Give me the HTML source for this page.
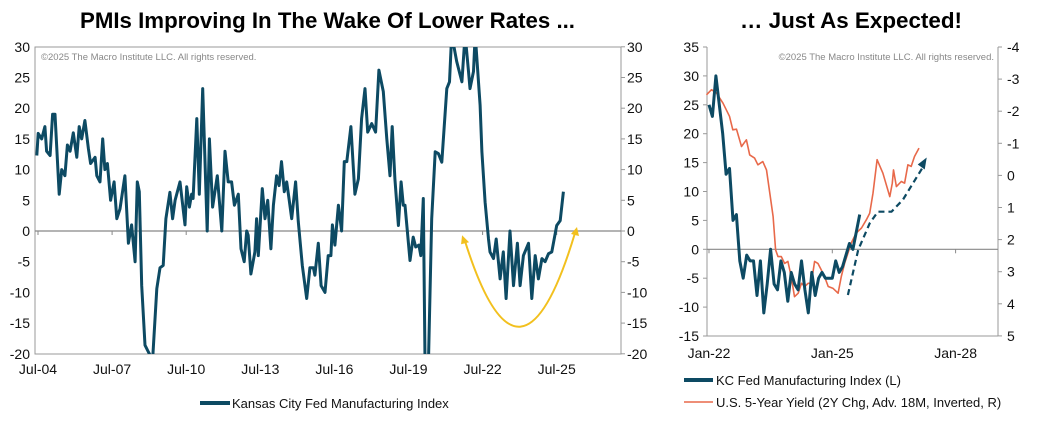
<!DOCTYPE html>
<html><head><meta charset="utf-8"><style>
body{margin:0;background:#fff;width:1038px;height:425px;overflow:hidden;font-family:"Liberation Sans",Arial,sans-serif}
svg text{font-family:"Liberation Sans",Arial,sans-serif}
</style></head><body>
<svg id="c" width="1038" height="425" xmlns="http://www.w3.org/2000/svg">
<text x="80" y="28" textLength="495" lengthAdjust="spacingAndGlyphs" style="font-family:'Liberation Sans Narrow','Liberation Sans',sans-serif;font-weight:bold;font-size:22px">PMIs Improving In The Wake Of Lower Rates ...</text>
<text x="740" y="28" textLength="222" lengthAdjust="spacingAndGlyphs" style="font-family:'Liberation Sans Narrow','Liberation Sans',sans-serif;font-weight:bold;font-size:22px">… Just As Expected!</text>
</svg>
<script>
// Left chart data: KC Fed Manufacturing Index
const leftDates=[2004.45,2004.51,2004.65,2004.78,2004.85,2004.99,2005.09,2005.19,2005.36,2005.46,2005.59,2005.69,2005.80,2005.93,2006.07,2006.17,2006.27,2006.40,2006.54,2006.63,2006.81,2006.88,2007.01,2007.12,2007.21,2007.31,2007.44,2007.58,2007.69,2007.82,2008.02,2008.16,2008.29,2008.43,2008.52,2008.60,2008.70,2008.83,2008.97,2009.14,2009.31,2009.44,2009.57,2009.68,2009.84,2009.95,2010.05,2010.25,2010.45,2010.52,2010.63,2010.72,2010.78,2010.93,2011.03,2011.17,2011.35,2011.44,2011.57,2011.76,2011.94,
2012.07,2012.20,2012.34,2012.45,2012.61,2012.72,2012.85,2012.95,2013.01,2013.12,2013.28,2013.35,2013.42,2013.58,2013.69,2013.80,2013.93,2014.03,2014.16,2014.26,2014.36,2014.47,2014.57,2014.66,2014.77,2014.93,2015.04,2015.20,2015.38,2015.51,2015.65,2015.71,2015.85,2015.96,2016.12,2016.25,2016.36,2016.42,2016.52,2016.66,2016.79,2016.90,2017.00,2017.17,2017.33,2017.47,2017.60,2017.74,2017.85,2018.01,2018.17,2018.30,2018.48,2018.62,2018.75,2018.84,2018.95,2019.09,2019.20,2019.29,2019.36,2019.56,2019.69,2019.79,2019.92,2020.00,2020.10,2020.17,
2020.31,2020.44,2020.58,2020.71,2020.85,2021.05,2021.16,2021.25,2021.45,2021.66,2021.79,2021.93,2021.99,2022.13,2022.20,2022.40,2022.47,2022.60,2022.74,2022.80,2022.94,2023.05,2023.21,2023.34,2023.45,2023.61,2023.75,2023.91,2024.02,2024.15,2024.36,2024.49,2024.63,2024.76,2024.90,2025.03,2025.17,2025.30,2025.50,2025.64,2025.77];
const leftVals=[12.3,15.9,15,17,13,12.3,19,19,6,10,9,14,13,16,12,17,15,18,13.4,11,12,9,8,15,10,11,5,8,2,3.6,9,-2,1,-5,8,6.4,-8.9,-18.6,-19.7,-21,-9.4,-6,-5.6,2,6.3,2,5,8,1,7.2,3.9,6,5.3,18.3,6,23.2,0,15,3.9,9,0,
13,8,8,4.2,6,-2.9,-5,0,-0.7,-7,-3.4,2,-4,6.9,2,5,-2.9,4.2,9,7.4,11.3,6.4,8,5.3,2,8,1.5,-5.6,-11,-6,-6,-7.2,-2,-8.9,-10,-4,-4,1,-2.3,4.2,0,11.3,11.3,17,6,8.5,18.3,23.2,16.1,17.5,16.1,26.2,22.7,15,9,17,8.5,0.9,8,4.2,4.2,-4.8,-1,-2.6,-2.3,-4,5.3,-21,
-21,2,12.9,12.6,11.2,23.2,24.3,32,27.6,24.3,32,26,23.2,26,32,20.5,12.9,4.7,-1.3,-3.4,-4.5,-1.3,-7.8,-3.4,-11,0,-8.9,-2,-8.9,-4,-2,-11,-4,-7.8,-4.5,-5,-3.7,-3.4,0.9,1.7,6.4];
const leftTicksY=[30,25,20,15,10,5,0,-5,-10,-15,-20];
const leftTicksX=["Jul-04","Jul-07","Jul-10","Jul-13","Jul-16","Jul-19","Jul-22","Jul-25"];
const leftTickYears=[2004.5,2007.5,2010.5,2013.5,2016.5,2019.5,2022.5,2025.5];
const arcYears=[2021.79,2024.02,2026.24];
const arcVals=[-0.7,-15.1,0.65];
// Right chart data
const kcVals=[25,23,30,25,20,13,14,5,6,-2,-5,-1,-2,-2,-8,-2,-11,-6,0,-6,-7,-2,-4,-9,-4,-6,-7,-2,-7,-11,-4,-8,-5,-4,-5,-5,-5,-2,-4,-3,-1,1,0,3,6];
const kcStart=2022.0;
const ylDates=[2021.94,2022.06,2022.18,2022.34,2022.5,2022.58,2022.67,2022.79,2022.91,2022.99,2023.11,2023.19,2023.31,2023.4,2023.48,2023.56,2023.62,2023.68,2023.76,2023.84,2023.92,2024.0,2024.08,2024.17,2024.25,2024.33,2024.41,2024.49,2024.57,2024.65,2024.73,2024.81,2024.9,2025.02,2025.14,2025.22,2025.3,2025.46,2025.58,2025.71,2025.83,2025.91,2025.99,2026.09,2026.23,2026.4,2026.46,2026.49,2026.56,2026.68,2026.76,2026.84,2026.92,2027.0,2027.11];
const ylVals=[-2.51,-2.67,-2.57,-2.25,-1.84,-1.42,-1.44,-0.9,-1.11,-0.64,-0.54,-0.33,-0.43,-0.17,0.55,1.28,2.32,2.53,2.53,2.74,2.68,3.15,3.78,3.67,3.36,3.46,3.36,3.36,2.68,2.74,2.94,3.15,3.46,3.52,3.67,3.15,2.74,2.11,1.8,1.64,1.38,1.18,0.55,-0.49,-0.07,0.66,0.24,-0.17,0.35,0.19,0.24,-0.33,-0.28,-0.59,-0.85];
const projDates=[2025.38,2025.63,2025.91,2026.11,2026.44,2026.72,2027.2];
const projVals=[-7.9,-0.1,4.5,6.5,6.5,8.6,15.2];
const rTicksL=[35,30,25,20,15,10,5,0,-5,-10,-15];
const rTicksR=[-4,-3,-2,-1,0,1,2,3,4,5];
const rTicksX=["Jan-22","Jan-25","Jan-28"];
const rTickYears=[2022,2025,2028];

const NS="http://www.w3.org/2000/svg";
const svg=document.getElementById('c');
function mk(tag,attrs,parent){const e=document.createElementNS(NS,tag);for(const k in attrs)e.setAttribute(k,attrs[k]);(parent||svg).appendChild(e);return e;}
const TEAL="#0d4a63";
// ---------- Left chart ----------
const L={x0:35,x1:621,y0:47,y1:354};
const lx=y=>38+(y-2004.5)*24.7;
const ly=v=>231-v*6.14;
const lg=mk('g',{});


const lf=mk('rect',{x:L.x0,y:L.y0,width:L.x1-L.x0,height:L.y1-L.y0,fill:'none',stroke:'#999','stroke-width':1},lg);


const lz=mk('line',{x1:L.x0,x2:L.x1,y1:ly(0),y2:ly(0),stroke:'#888','stroke-width':1.2},lg);


leftTicksY.forEach(v=>{
  const t=mk('text',{x:L.x0-5,y:ly(v)+5,'text-anchor':'end','font-size':14,fill:'#111'},lg);t.textContent=v;
  
  
  const t2=mk('text',{x:L.x1+6,y:ly(v)+5,'font-size':14,fill:'#111'},lg);t2.textContent=v;
  
  
  mk('line',{x1:L.x1,x2:L.x1+4,y1:ly(v),y2:ly(v),stroke:'#999'},lg);
});
leftTicksX.forEach((s,i)=>{
  const x=lx(leftTickYears[i]);
  mk('line',{x1:x,x2:x,y1:ly(0),y2:ly(0)+4,stroke:'#888'},lg);
  const t=mk('text',{x:x,y:374,'text-anchor':'middle','font-size':14,fill:'#111'},lg);t.textContent=s;
  
  
});
const lc=mk('text',{x:41,y:60,'font-size':9.5,fill:'#888'},lg);lc.textContent='©2025 The Macro Institute LLC. All rights reserved.';


const clipL=mk('clipPath',{id:'clipL'});mk('rect',{x:L.x0,y:L.y0,width:L.x1-L.x0,height:L.y1-L.y0},clipL);
const lp=mk('path',{d:leftDates.map((d,i)=>(i?'L':'M')+lx(d).toFixed(1)+' '+ly(leftVals[i]).toFixed(1)).join(''),fill:'none',stroke:TEAL,'stroke-width':3,'stroke-linejoin':'round','clip-path':'url(#clipL)'},lg);


// yellow arc
const ax=arcYears.map(lx),ay=arcVals.map(ly);
const cx=ax[1],cy=2*ay[1]-(ay[0]+ay[2])/2;
const arc=mk('path',{d:`M${ax[0]} ${ay[0]+6}Q${cx} ${cy} ${ax[2]} ${ay[2]+6}`,fill:'none',stroke:'#f2c01e','stroke-width':2},lg);


const ah1=mk('polygon',{points:`${ax[0]-3},${ay[0]} ${ax[0]-4},${ay[0]+9} ${ax[0]+4},${ay[0]+7}`,fill:'#f2c01e'},lg);


const ah2=mk('polygon',{points:`${ax[2]+2},${ay[2]} ${ax[2]-4},${ay[2]+7} ${ax[2]+4},${ay[2]+9}`,fill:'#f2c01e'},lg);


// legend
const lgl=mk('line',{x1:200,x2:230,y1:403,y2:403,stroke:TEAL,'stroke-width':4},lg);


const lgt=mk('text',{x:232,y:408,'font-size':13,fill:'#111'},lg);lgt.textContent='Kansas City Fed Manufacturing Index';



// ---------- Right chart ----------
const R={x0:707,x1:998,y0:47,y1:336};
const rx=y=>709+(y-2022)*41.1;
const ryl=v=>47+(35-v)*5.78;
const ryr=v=>47+(v+4)*32.1;
const rg=mk('g',{});


const rf1=mk('line',{x1:R.x0,x2:R.x0,y1:R.y0,y2:R.y1,stroke:'#999'},rg);


const rf2=mk('line',{x1:R.x1,x2:R.x1,y1:R.y0,y2:R.y1,stroke:'#999'},rg);


const rf3=mk('line',{x1:R.x0,x2:R.x1,y1:R.y1,y2:R.y1,stroke:'#999'},rg);


const rz=mk('line',{x1:R.x0,x2:R.x1,y1:ryl(0),y2:ryl(0),stroke:'#888','stroke-width':1.2},rg);


rTicksL.forEach(v=>{
  mk('line',{x1:R.x0-4,x2:R.x0,y1:ryl(v),y2:ryl(v),stroke:'#999'},rg);
  const t=mk('text',{x:R.x0-8,y:ryl(v)+5,'text-anchor':'end','font-size':14,fill:'#111'},rg);t.textContent=v;
  
  
});
rTicksR.forEach(v=>{
  mk('line',{x1:R.x1,x2:R.x1+4,y1:ryr(v),y2:ryr(v),stroke:'#999'},rg);
  const t=mk('text',{x:R.x1+9,y:ryr(v)+5,'font-size':14,fill:'#111'},rg);t.textContent=v;
  
  
});
rTicksX.forEach((s,i)=>{
  const x=rx(rTickYears[i]);
  mk('line',{x1:x,x2:x,y1:ryl(0),y2:ryl(0)+4,stroke:'#888'},rg);
  const t=mk('text',{x:x,y:358,'text-anchor':'middle','font-size':14,fill:'#111'},rg);t.textContent=s;
  
  
});
const rc=mk('text',{x:994,y:60,'text-anchor':'end','font-size':9.5,fill:'#888'},rg);rc.textContent='©2025 The Macro Institute LLC. All rights reserved.';


const yp=mk('path',{d:ylDates.map((d,i)=>(i?'L':'M')+rx(d).toFixed(1)+' '+ryr(ylVals[i]).toFixed(1)).join(''),fill:'none',stroke:'#e8694a','stroke-width':1.6,'stroke-linejoin':'round'},rg);


const kp=mk('path',{d:kcVals.map((v,i)=>(i?'L':'M')+rx(kcStart+i/12).toFixed(1)+' '+ryl(v).toFixed(1)).join(''),fill:'none',stroke:TEAL,'stroke-width':3,'stroke-linejoin':'round'},rg);


const n=projDates.length;
const pp=mk('path',{d:projDates.map((d,i)=>(i?'L':'M')+rx(d).toFixed(1)+' '+(ryl(projVals[i])+(i==n-1?6:0)).toFixed(1)).join(''),fill:'none',stroke:TEAL,'stroke-width':2.2,'stroke-dasharray':'6 4'},rg);


const ex=rx(projDates[n-1]),ey=ryl(projVals[n-1]);
const pa=mk('polygon',{points:`${ex+4},${ey-4} ${ex-5},${ey+3} ${ex+2},${ey+8}`,fill:TEAL},rg);


const rl1=mk('line',{x1:684,x2:713,y1:380,y2:380,stroke:TEAL,'stroke-width':4},rg);


const rt1=mk('text',{x:716,y:385,'font-size':13,fill:'#111'},rg);rt1.textContent='KC Fed Manufacturing Index (L)';


const rl2=mk('line',{x1:684,x2:713,y1:402,y2:402,stroke:'#e8694a','stroke-width':1.6},rg);


const rt2=mk('text',{x:716,y:407,'font-size':13,fill:'#111'},rg);rt2.textContent='U.S. 5-Year Yield (2Y Chg, Adv. 18M, Inverted, R)';


</script>
</body></html>
